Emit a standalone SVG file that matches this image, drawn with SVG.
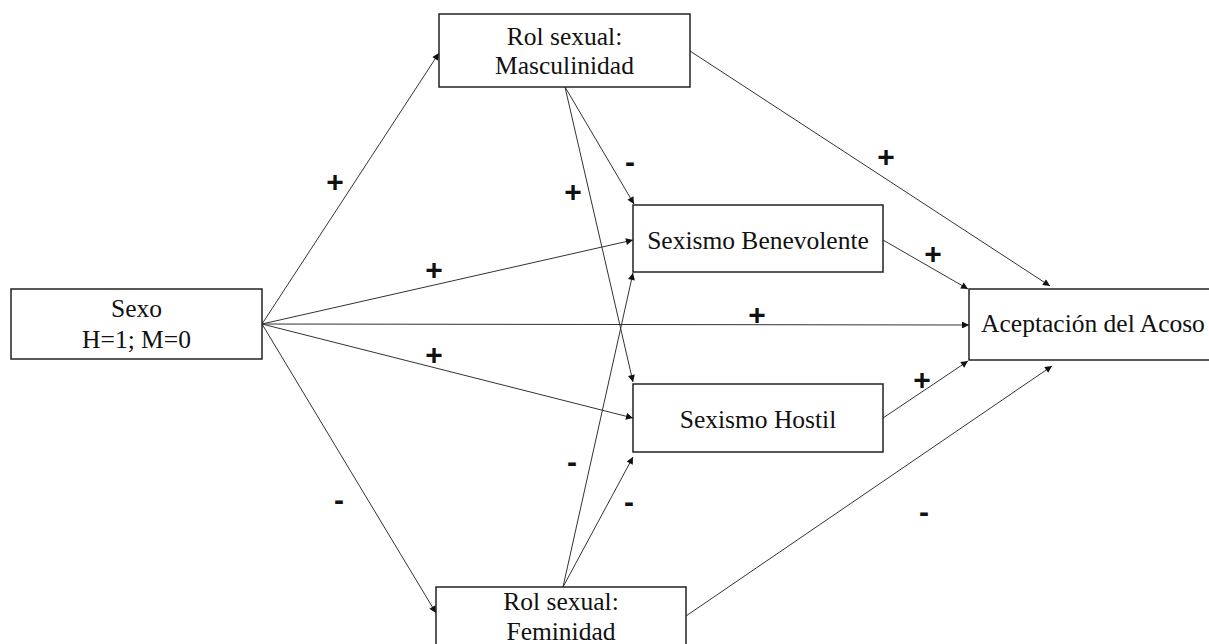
<svg xmlns="http://www.w3.org/2000/svg" width="1209" height="644" viewBox="0 0 1209 644">
<style>
.box{fill:#fff;stroke:#222;stroke-width:1.5}
.t{font-family:"Liberation Serif",serif;font-size:25.5px;fill:#111;text-anchor:middle}
.e{stroke:#333;stroke-width:1;fill:none;marker-end:url(#ah)}
.s{font-family:"Liberation Sans",Arial,sans-serif;font-size:30px;font-weight:bold;fill:#111;text-anchor:middle}
</style>
<defs>
<marker id="ah" viewBox="0 0 10 10" refX="10" refY="5" markerWidth="9" markerHeight="7" markerUnits="userSpaceOnUse" orient="auto">
<path d="M0,0 L10,5 L0,10 Z" fill="#111"/>
</marker>
</defs>
<rect width="1209" height="644" fill="#fff"/>
<g id="connectors">
<line class="e" x1="262" y1="324" x2="439" y2="53"/>
<line class="e" x1="262" y1="324" x2="633" y2="240"/>
<line class="e" x1="262" y1="324" x2="969" y2="325"/>
<line class="e" x1="262" y1="324" x2="633" y2="418"/>
<line class="e" x1="262" y1="324" x2="436" y2="613"/>
<line class="e" x1="565" y1="87" x2="634" y2="204"/>
<line class="e" x1="565" y1="87" x2="633" y2="382"/>
<line class="e" x1="563" y1="587" x2="633" y2="273"/>
<line class="e" x1="563" y1="587" x2="633" y2="457"/>
<line class="e" x1="690" y1="51" x2="1050" y2="286"/>
<line class="e" x1="883" y1="240" x2="968" y2="289"/>
<line class="e" x1="883" y1="418" x2="968" y2="361"/>
<line class="e" x1="686" y1="616" x2="1052" y2="366"/>
</g>
<g id="labels">
<text class="s" x="335" y="192">+</text>
<text class="s" x="339" y="510">-</text>
<text class="s" x="434" y="280">+</text>
<text class="s" x="434" y="365">+</text>
<text class="s" x="757" y="325">+</text>
<text class="s" x="886" y="167">+</text>
<text class="s" x="933" y="264">+</text>
<text class="s" x="922" y="390">+</text>
<text class="s" x="630" y="172">-</text>
<text class="s" x="573" y="202">+</text>
<text class="s" x="572" y="472">-</text>
<text class="s" x="629" y="512">-</text>
<text class="s" x="924" y="522">-</text>
</g>
<g id="sexo">
<rect class="box" x="11" y="289" width="251" height="70"/>
<text class="t" x="136.5" y="317">Sexo</text>
<text class="t" x="136.5" y="348">H=1; M=0</text>
</g>
<g id="masculinidad">
<rect class="box" x="439" y="14" width="251" height="73"/>
<text class="t" x="564.5" y="45">Rol sexual:</text>
<text class="t" x="564.5" y="74">Masculinidad</text>
</g>
<g id="benevolente">
<rect class="box" x="633" y="205" width="250" height="67"/>
<text class="t" x="758" y="249">Sexismo Benevolente</text>
</g>
<g id="hostil">
<rect class="box" x="633" y="384" width="250" height="68"/>
<text class="t" x="758" y="428">Sexismo Hostil</text>
</g>
<g id="feminidad">
<rect class="box" x="436" y="587" width="250" height="75"/>
<text class="t" x="561" y="610">Rol sexual:</text>
<text class="t" x="561" y="640">Feminidad</text>
</g>
<g id="aceptacion">
<rect class="box" x="969" y="289" width="245" height="71"/>
<text class="t" x="1093" y="332">Aceptación del Acoso</text>
</g>
</svg>
